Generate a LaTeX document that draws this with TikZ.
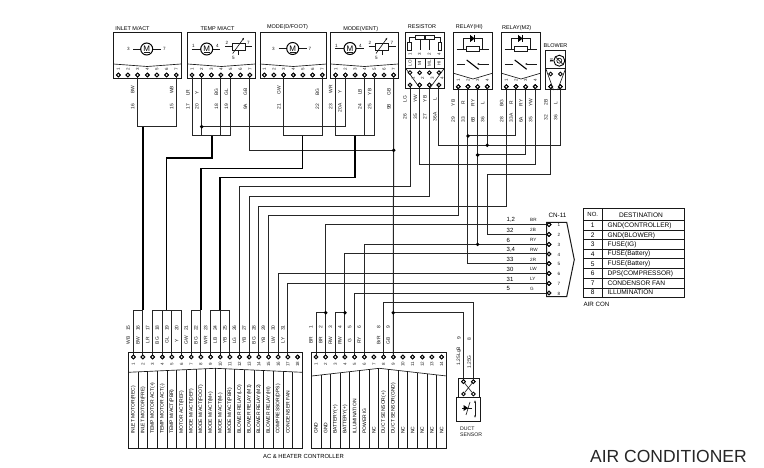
\documentclass[tikz,border=0pt]{standalone}
\usepackage{fontspec}
\setmainfont{Liberation Sans}
\usetikzlibrary{arrows.meta,calc}
\newcommand{\fs}[1]{\fontsize{#1}{#1}\selectfont}
\tikzset{
 wire/.style={line width=1pt,draw=black!85,line join=miter},
 bus/.style={line width=1.5pt,draw=black,line join=miter},
 box/.style={line width=1pt,draw=black!90},
 fine/.style={line width=0.65pt,draw=black!90},
 pinn/.style={circle,draw=black,line width=0.9pt,fill=white,inner sep=0pt,minimum size=3.7pt},
 dotn/.style={circle,fill=black,inner sep=0pt,minimum size=3.8pt},
 title/.style={font=\fs{5.5},inner sep=0pt,text=black},
 wlab/.style={font=\fs{4.9},inner sep=0pt,rotate=90,text=black!90},
 nlab/.style={font=\fs{4.5},inner sep=0pt,rotate=90,text=black!85},
 clab/.style={font=\fs{5},inner sep=0pt,rotate=90,anchor=west,text=black},
 slab/.style={font=\fs{4.6},inner sep=0pt,text=black!90},
 tlab/.style={font=\fs{6.6},inner sep=0pt,text=black},
 tl/.style={font=\fs{6.6},inner sep=0pt,anchor=west,text=black},
 rlab/.style={font=\fs{6},inner sep=0pt,anchor=west,text=black},
 mcirc/.style={circle,draw=black,line width=1pt,fill=white,inner sep=0pt,minimum size=12pt,font=\fs{8}},
}
% motor: name, centre x, y
\newcommand{\mymotor}[3]{\node[mcirc] (#1) at (#2,#3) {M};
 \draw[fine] ($(#1)+(-3,3.4)$) -- ($(#1)+(3,3.4)$);}
% variable resistor at centre x
\newcommand{\mysens}[1]{\begin{scope}[xshift=#1pt]
 \draw[fine] (-13.5,46.5) -- (13.5,46.5);
 \draw[box,fill=white] (-6.3,43.3) rectangle (6.3,50.2);
 \draw[fine] (0,50.2) -- (0,55);
 \draw[fine,-{Latex[length=2.5pt,width=2pt]}] (-6,53.5) -- (5.5,37.5);
 \end{scope}}
\newcommand{\myrelay}[1]{\begin{scope}[xshift=#1pt]
 \draw[box] (0,32.7) rectangle (38.6,90);
 \draw[fine] (0,73.3) -- (19.3,79) -- (38.6,73.3);
 \draw[fine] (3,49) -- (35,49);
 \draw[fine] (9.5,49) -- (9.5,38.3) -- (28.5,38.3) -- (28.5,49);
 \draw[box,fill=white] (13,46.5) rectangle (26,51.3);
 \fill (16.5,35) -- (16.5,42) -- (21,38.5) -- cycle;
 \draw[line width=0.9pt] (21,35) -- (21,42);
 \draw[line width=1.1pt] (13,60) -- (25,69.3);
 \draw[fine] (3,64) -- (11.5,64);
 \draw[fine,-{Latex[length=2.5pt,width=2pt]}] (35,64) -- (23,64);
 \end{scope}}
\begin{document}
\begin{tikzpicture}[x=1pt,y=-1pt]
\useasboundingbox (0,0) rectangle (764,468);
\fill[white] (0,0) rectangle (764,468);
% levels
\foreach \n/\v in {L126/126.7,L136/136,L145/145.3,L150/150.3,L155/155,L158/158,L165/165,L168/168.3,L174/174.3,L177/177.7,L187/187,L196/196.7,L206/206.3,L216/216,L302/302.7,L310/310,L312/312.7}
  \coordinate (\n) at (0,\v);
\coordinate (Xa) at (212,0);
\coordinate (Xb) at (166.3,0);
\coordinate (Xc) at (302.3,0);
\coordinate (Xd) at (355,0);
\coordinate (Xe) at (487,0);
% top boxes
\foreach \a/\b in {113.3/181,187.7/255.3,260/326.7,330.7/398.3}{
 \draw[box] (\a,32.7) rectangle (\b,79);
 \draw[fine] (\a,64) -- ({(\a+\b)/2},66.5) -- (\b,64);
}
% pins top
\foreach \k in {1,...,7}{
 \node[pinn] (i\k) at ({118.3+9.66*(\k-1)},75) {};
 \node[pinn] (t\k) at ({192+9.66*(\k-1)},75) {};
 \node[pinn] (d\k) at ({264.3+9.66*(\k-1)},75) {};
 \node[pinn] (v\k) at ({335.7+9.66*(\k-1)},75) {};
}
\foreach \k in {1,...,4}{
 \node[pinn] (r\k) at ({410+9.66*(\k-1)},85) {};
 \node[pinn] (h\k) at ({458.3+9.66*(\k-1)},86.7) {};
 \node[pinn] (m\k) at ({506.3+9.66*(\k-1)},86.7) {};
}
\node[pinn] (b1) at (550.7,86.7) {};
\node[pinn] (b2) at (560.3,86.7) {};
% bottom pins
\foreach \k in {1,...,18} \node[pinn] (c\k) at ({133.3+9.66*(\k-1)},357) {};
\foreach \k in {1,...,14} \node[pinn] (e\k) at ({316+9.66*(\k-1)},357) {};
% CN pins
\foreach \k/\v in {1/224.7,2/234.3,3/244.3,4/254,5/263.7,6/273.3,7/283.3,8/293}
 \node[pinn] (n\k) at (549,\v) {};
% duct pins
\node[pinn] (s1) at (463.5,381.7) {};
\node[pinn] (s2) at (473.3,381.7) {};

% --- wires ---
\draw[wire] (i3) -- (i3|-L126) -- (i7|-L126) -- (i7);
\draw[bus] (c2|-L126) -- (c2|-L310);
\draw[wire] (c1) -- (c1|-L310) -- (c2|-L310) -- (c2);
\draw[wire] (t1) -- (t1|-L136) -- (t5|-L136) -- (t5);
\draw[wire] (t2) -- (t2|-L136);
\draw[wire] (t4) -- (t4|-L136);
\draw[wire] (t2|-L126) -- (v2|-L126) -- (v2);
\draw[bus] (Xa|-L136) -- (Xa|-L158) -- (Xb|-L158) -- (Xb|-L310);
\draw[wire] (c3) -- (c3|-L310) -- (c6|-L310) -- (c6);
\draw[wire] (c4) -- (c4|-L310);
\draw[wire] (c5) -- (c5|-L310);
\draw[wire] (t7) -- (t7|-L150) -- (v7|-L150);
\draw[wire] (v7) -- (e9);
\draw[wire] (d3) -- (d3|-L136) -- (d7|-L136) -- (d7);
\draw[bus] (Xc|-L136) -- (Xc|-L168) -- (c8|-L168) -- (c8|-L310);
\draw[wire] (c7) -- (c7|-L310) -- (c8|-L310) -- (c8);
\draw[wire] (v1) -- (v1|-L136) -- (v5|-L136) -- (v5);
\draw[wire] (v4) -- (v4|-L136);
\draw[bus] (Xd|-L136) -- (Xd|-L177) -- (c10|-L177) -- (c10|-L310);
\draw[wire] (c9) -- (c9|-L310) -- (c11|-L310) -- (c11);
\draw[wire] (c10) -- (c10|-L310);
\draw[wire] (r1) -- (r1|-L187) -- (c12|-L187) -- (c12);
\draw[wire] (r3) -- (r3|-L196) -- (c13|-L196) -- (c13);
\draw[wire] (m1) -- (m1|-L206) -- (c14|-L206) -- (c14);
\draw[wire] (h1) -- (h1|-L216) -- (c15|-L216) -- (c15);
\draw[wire] (c16) |- (n6);
\draw[wire] (c17) |- (n7);
\draw[wire] (r2) -- (r2|-L165) -- (m4|-L165) -- (m4);
\draw[wire] (r4) -- (r4|-L145) -- (b2|-L145) -- (b2);
\draw[wire] (h4) -- (h4|-L145);
\draw[wire] (h2) |- (n5);
\draw[wire] (h2|-L136) -- (m2|-L136) -- (m2);
\draw[wire] (h3) |- (n3);
\draw[wire] (h3|-L155) -- (m3|-L155) -- (m3);
\draw[wire] (b1) -- (b1|-L174) -- (Xe|-L174) |- (n2);
\draw[wire] (e2) |- (n1);
\draw[wire] (e1) -- (e1|-L312) -- (e2|-L312);
\draw[wire] (e4) |- (n4);
\draw[wire] (e3) -- (e3|-L312) -- (e4|-L312);
\draw[wire] (e5) |- (n8);
\draw[wire] (e6) |- (n3);
\draw[wire] (e8) -- (e8|-L302) -- (s2|-L302) -- (s2);
\draw[wire] (e9|-L312) -- (s1|-L312) -- (s1);
% redraw pins on top
\foreach \p in {i,t,d,v}{\foreach \k in {1,...,7}{\node[pinn] at (\p\k) {};}}
\foreach \p in {r,h,m}{\foreach \k in {1,...,4}{\node[pinn] at (\p\k) {};}}
\node[pinn] at (b1) {}; \node[pinn] at (b2) {};
\foreach \k in {1,...,18}{\node[pinn] at (c\k) {};}
\foreach \k in {1,...,14}{\node[pinn] at (e\k) {};}
\foreach \k in {1,...,8}{\node[pinn] at (n\k) {};}
\node[pinn] at (s1) {}; \node[pinn] at (s2) {};
% junctions
\node[dotn] (j1) at (t2|-L126) {};
\node[dotn] (j2) at (v7|-L150) {};
\node[dotn] (j3) at (h2|-L136) {};
\node[dotn] (j4) at (h4|-L145) {};
\node[dotn] (j5) at (h3|-L155) {};
\node[dotn] (j6) at (h3|-n3) {};
\node[dotn] (j7) at (e2|-L312) {};
\node[dotn] (j8) at (e4|-L312) {};
\node[dotn] (j9) at (e9|-L312) {};

% --- titles ---
\node[title] (ti1) at (132.5,28.7) {INLET M/ACT};
\node[title] (ti2) at (217.5,29) {TEMP M/ACT};
\node[title] (ti3) at (287.5,27.5) {MODE(D/FOOT)};
\node[title] (ti4) at (360.7,29) {MODE(VENT)};
\node[title] (ti5) at (422,26.7) {RESISTOR};
\node[title] (ti6) at (469.3,26.7) {RELAY(HI)};
\node[title] (ti7) at (516.7,27.7) {RELAY(M2)};
\node[title] (ti8) at (555.5,45.7) {BLOWER};

% --- actuators ---
\draw[fine] (133,49) -- (161,49); \mymotor{mo1}{146.7}{49}
\node[slab] (q1) at (128.3,49) {3}; \node[slab] (q2) at (164.5,49) {7};
\draw[fine] (191.7,49.3) -- (220,49.3); \mymotor{mo2}{206.7}{49}
\node[slab] (q3) at (193.5,46) {1}; \node[slab] (q4) at (217.5,46) {4};
\mysens{238.7}
\node[slab] (q5) at (227,43) {2}; \node[slab] (q6) at (248.5,43) {7}; \node[slab] (q7) at (233.5,58) {5};
\draw[fine] (278.5,48.5) -- (307,48.5); \mymotor{mo3}{292.7}{48.5}
\node[slab] (q8) at (273.5,48.5) {3}; \node[slab] (q9) at (310,48.5) {7};
\draw[fine] (335,48.5) -- (363.5,48.5); \mymotor{mo4}{350}{48.5}
\node[slab] (q10) at (336.5,45.5) {1}; \node[slab] (q11) at (360.5,45.5) {4};
\mysens{382}
\node[slab] (q12) at (370,43) {2}; \node[slab] (q13) at (392,43) {7}; \node[slab] (q14) at (376.5,58) {5};

% pin numbers top
\foreach \p/\pre in {i/a,t/b,d/f,v/g}{\foreach \k in {1,...,7}{
 \node[nlab,name=pn\pre\k] at ($(\p\k)+(0,-5.7)$) {\k};}}

% --- resistor ---
\draw[box] (405.7,32.7) rectangle (444.3,88.3);
\draw[fine] (409.3,51) -- (409.3,37) -- (440,37) -- (440,51);
\draw[fine,fill=white] (407.6,42) rectangle (411,50);
\draw[fine,fill=white] (438.3,42) rectangle (441.7,50);
\draw[fine,fill=white] (415.5,35.2) rectangle (424,39);
\draw[fine,fill=white] (425.5,35.2) rectangle (434,39);
\draw[fine] (420,39) -- (420,50);
\draw[fine] (429.7,39) -- (429.7,50);
\foreach \k/\t in {1/1,2/3,3/2,4/4}{\node[nlab,name=rn\k] at ($(r\k)+(0,-31)$) {\t};}
\draw[box] (405.7,58.3) -- (444.3,58.3);
\draw[fine] (405.7,68.3) -- (444.3,68.3);
\foreach \x in {415,425,434.7} \draw[fine] (\x,58.3) -- (\x,68.3);
\foreach \k/\t in {1/LO,2/MI,3/ML,4/HI}{\node[nlab,name=rc\k] at ($(r\k)+(0,-21.7)$) {\t};}
\draw[fine] (405.7,68.3) -- (420,88.3);
\draw[fine] (444.3,68.3) -- (429.7,88.3);
\foreach \k in {1,...,4}{\node[pinn,name=ru\k] at ($(r\k)+(0,-12.3)$) {};
 \node[nlab,name=rm\k] at ($(r\k)+(3,-6.5)$) {\k};}

% --- relays ---
\myrelay{453.7}
\myrelay{501.7}
\foreach \p/\pre in {h/x,m/y}{\foreach \k in {1,...,4}{\node[nlab,name=pn\pre\k] at ($(\p\k)+(0,-6)$) {\k};}}
\foreach \k in {1,...,4}{\node[pinn] at (h\k) {}; \node[pinn] at (m\k) {};}

% --- blower ---
\draw[box] (545.7,51) rectangle (565.7,90);
\draw[fine] (545.7,68.3) -- (565.7,68.3);
\node[circle,draw=black,line width=0.9pt,inner sep=0pt,minimum size=11pt] (bm) at (559.3,60.7) {};
\node[circle,draw=black,line width=0.6pt,inner sep=0pt,minimum size=5pt] (bn) at (bm) {};
\draw[fine] (bm.west) -- (550,60.7);
\draw[fine] (bm.north west) -- (bm.south east);
\node[nlab,name=bt] at (551.5,60.5) {M};
\draw[fine] (545.7,68.3) -- (553.5,90);
\draw[fine] (565.7,68.3) -- (557.5,90);
\node[pinn] (bu1) at (550.7,74) {};
\node[pinn] (bu2) at (560.3,74) {};
\node[pinn] at (b1) {}; \node[pinn] at (b2) {};

% --- top wire labels ---
\foreach \x/\y/\t [count=\k] in {
 132.7/90/BW,132.7/107/16,171.7/90/WB,171.7/107/15,
 188/92.7/LR,188/107/17,197/92.7/Y,197/107/20,216.5/92/BG,216.5/107/18,226.5/92/GL,226.5/107/19,245.5/92/GB,245.5/107/9A,
 279/90/GW,279/107/21,317.5/92/BG,317.5/107/22,
 330.7/89/WR,330.7/107/23,340/92/Y,340/108/20A,360/92/LB,360/107/24,369.7/92/YB,369.7/107/25,389/92/GB,389/107/9B,
 405/99/LG,405/116.7/26,415.5/99/YW,415.5/116.7/35,425/99/YB,425/116.7/27,435/99/L,435/116.7/36A,
 453.3/103/YB,453.3/120/29,463.3/103/R,463.3/120/33,473/103/RY,473/120/6B,482.7/103/L,482.7/120/36,
 501.7/103/BG,501.7/120/28,511.3/103/R,511.3/118/33A,521/103/RY,521/120/6A,530.7/103/YW,530.7/120/35,
 546/102.7/2B,546/118/32,555.7/102.7/L,555.7/118/36}
 \node[wlab,name=w\k] at (\x,\y) {\t};

% --- bottom left connector ---
\draw[box] (128.3,352.3) rectangle (302.3,448.3);
\draw[fine] (128.3,372.3) -- (215.3,368.3) -- (302.3,372.3);
\foreach \k in {1,...,17}{
 \pgfmathsetmacro{\xx}{133.3+9.66*(\k-1)+4.83}
 \pgfmathsetmacro{\yy}{372.3-4*(1-abs(\xx-215.3)/87)}
 \draw[fine] (\xx,\yy) -- (\xx,448.3);
}
\foreach \k/\t in {1/{INLET MOTOR(REC)},2/{INLET MOTOR(FRE)},3/{TEMP MOTOR ACT(+)},4/{TEMP MOTOR ACT(-)},5/{TEMP M/ACT(PBR)},6/{MOTOR ACT(REF)},7/{MODE M/ACT(DEF)},8/{MODE M/ACT(FOOT)},9/{MODE M/ACT(M+)},10/{MODE M/ACT(M-)},11/{MODE M/ACT(PBR)},12/{BLOWER RELAY(LO)},13/{BLOWER RELAY(M1)},14/{BLOWER RELAY(M2)},15/{BLOWER RELAY(HI)},16/{COMPRESSOR(DPS)},17/{CONDENSER FAN}}
 \node[clab,name=cl\k] at ({133.3+9.66*(\k-1)},434) {\t};
\foreach \k in {1,...,18} \node[nlab,name=cn\k] at ($(c\k)+(0,7)$) {\k};
\foreach \k/\a/\b in {1/WB/15,2/BW/16,3/LR/17,4/BG/18,5/GL/19,6/Y/20,7/GW/21,8/BG/22,9/WR/23,10/LB/24,11/YB/25,12/LG/26,13/YB/27,14/BG/28,15/YB/29,16/LW/30,17/LY/31}{
 \node[wlab,name=ca\k] at ($(c\k)+(-5,-16.5)$) {\a};
 \node[wlab,name=cb\k] at ($(c\k)+(-5,-29)$) {\b};
}
% --- bottom right connector ---
\draw[box] (311.7,352.3) rectangle (446.7,448.3);
\draw[fine] (311.7,376) -- (379.2,368.3) -- (446.7,376);
\foreach \k in {1,...,13}{
 \pgfmathsetmacro{\xx}{316+9.66*(\k-1)+4.83}
 \pgfmathsetmacro{\yy}{376-7.7*(1-abs(\xx-379.2)/67.5)}
 \draw[fine] (\xx,\yy) -- (\xx,448.3);
}
\foreach \k/\t in {1/GND,2/GND,3/BATTERY(+),4/BATTERY(+),5/ILLUMINATION,6/POWER IG,7/NC,8/DUCT SENSOR(+),9/DUCT SENSOR(GND),10/NC,11/NC,12/NC,13/NC,14/NC}
 \node[clab,name=el\k] at ({316+9.66*(\k-1)},434) {\t};
\foreach \k in {1,...,14} \node[nlab,name=en\k] at ($(e\k)+(0,7)$) {\k};
\foreach \k/\a/\b in {1/BR/1,2/BR/2,3/RW/3,4/RW/4,5/G/5,6/RY/6,8/BrR/8,9/GB/9}{
 \node[wlab,name=ea\k] at ($(e\k)+(-5,-16.5)$) {\a};
 \node[wlab,name=eb\k] at ($(e\k)+(-5,-30)$) {\b};
}
\node[title,font=\fs{5.9}] (ctl) at (303.5,456) {AC \& HEATER CONTROLLER};

% --- duct sensor ---
\node[wlab] (dl1) at (459,356) {1.25LgB};
\node[wlab] (dl2) at (459,338) {9};
\node[wlab] (dl3) at (469.3,362) {1.25G};
\node[wlab] (dl4) at (469.3,339) {8};
\draw[box] (458.3,378.3) rectangle (479,397.3);
\node[pinn] (su1) at (463.5,394) {};
\node[pinn] (su2) at (473.3,394) {};
\draw[fine] (s1) -- (su2);
\draw[fine] (s2) -- (su1);
\draw[box] (456.7,397.3) rectangle (480,421);
\draw[fine] (462,408) -- (472,408);
\fill (463.5,405) -- (463.5,411) -- (468,408) -- cycle;
\draw[fine] (466,415) -- (470,402);
\draw[fine,{Latex[length=2.5pt,width=2pt]}-{Latex[length=2.5pt,width=2pt]}] (475,400) -- (475,418);
\node[slab,font=\fs{5.2},anchor=west] (ds1) at (460,429) {DUCT};
\node[slab,font=\fs{5.2},anchor=west] (ds2) at (460,434.8) {SENSOR};

% --- CN-11 ---
\draw[box] (546.7,222.3) -- (566.7,222.3) -- (574.3,259.7) -- (566.7,296.7) -- (546.7,296.7) -- cycle;
\foreach \k in {1,...,8}{\node[pinn] at (n\k) {}; \node[slab,name=nn\k] at ($(n\k)+(10,0.5)$) {\k};}
\node[title,font=\fs{6.3}] (cnt) at (557.5,215.3) {CN-11};
\foreach \a/\b/\v [count=\k] in {{1,2}/BR/220,32/2B/230,6/RY/240,{3,4}/RW/250,33/2R/259.5,30/LW/269,31/LY/279,5/G/288.5}{
 \node[rlab,name=na\k] at (506.5,\v) {\a};
 \node[slab,anchor=west,name=nb\k] at (530,\v) {\b};
}
% --- table ---
\draw[box] (583.3,208.3) rectangle (684,297.3);
\draw[box] (602.3,208.3) -- (602.3,297.3);
\foreach \v in {220.7,230.7,240,249.3,259,269,278.3,288} \draw[box] (583.3,\v) -- (684,\v);
\node[tlab,font=\fs{6}] (th1) at (592.8,214.5) {NO.};
\node[tlab] (th2) at (641,215) {DESTINATION};
\foreach \v/\t [count=\k] in {225.7/GND(CONTROLLER),235.3/GND(BLOWER),244.6/FUSE(IG),254.2/FUSE(Battery),264/FUSE(Battery),273.6/DPS(COMPRESSOR),283.2/CONDENSOR FAN,292.7/ILLUMINATION}{
 \node[tlab,name=tn\k] at (592.8,\v) {\k};
 \node[tl,name=td\k] at (607.3,\v) {\t};
}
\node[tl,font=\fs{6.2}] (air) at (583.3,304.3) {AIR CON};
\node[inner sep=0pt,anchor=west,font=\fs{17.5},text=black!85] (big) at (590,456) {AIR CONDITIONER};
\end{tikzpicture}
\end{document}
